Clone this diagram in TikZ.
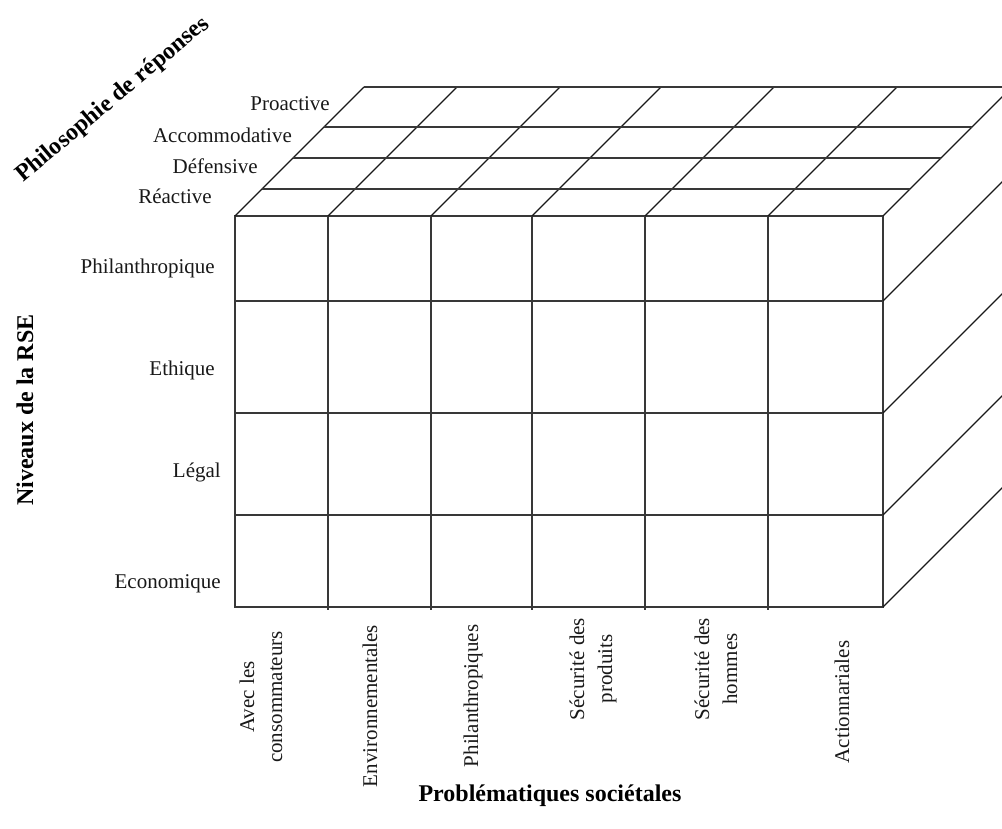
\documentclass[tikz,border=0pt]{standalone}
\usepackage{fontspec}
\setmainfont{Liberation Serif}
\begin{document}
\begin{tikzpicture}[x=1pt,y=-1pt,
  edge/.style={line width=1.4pt, draw=black!78},
  diag/.style={line width=1.2pt, draw=black!90},
  lbl/.style={font=\fontsize{21}{28}\selectfont, inner sep=0pt, text=black!90},
  ttl/.style={font=\bfseries\fontsize{24}{28}\selectfont, inner sep=0pt}]
\useasboundingbox (0,0) rectangle (1002,829);
\clip (0,0) rectangle (1002,829);
% front face
\draw[edge] (235,216) rectangle (883,607);
\foreach \x in {328,431,532,645,768} \draw[edge] (\x,216) -- (\x,610);
\foreach \y in {301,413,515} \draw[edge] (235,\y) -- (883,\y);
% top face
\foreach \x in {235,328,431,532,645,768,883} \draw[diag] (\x,216) -- ++(129,-129);
\foreach \y in {189,158,127} \draw[edge] ({451-\y},\y) -- ({1099-\y},\y);
\draw[edge] (364,87) -- (1012,87);
% right face
\foreach \y in {301,413,515,607} \draw[diag] (883,\y) -- ++(129,-129);
% top labels
\node[lbl, anchor=east] (pro) at (330,104) {Proactive};
\node[lbl, anchor=east] (acc) at (292,135) {Accommodative};
\node[lbl, anchor=east] (def) at (258,166) {Défensive};
\node[lbl, anchor=east] (rea) at (212,196) {Réactive};
% left labels
\node[lbl, anchor=east] (phi) at (215,268) {Philanthropique};
\node[lbl, anchor=east] (eth) at (215,370) {Ethique};
\node[lbl, anchor=east] (leg) at (221,472) {Légal};
\node[lbl, anchor=east] (eco) at (221,584) {Economique};
% bottom labels
\node[lbl, rotate=90, align=center] (c1) at (261,697) {Avec les\\consommateurs};
\node[lbl, rotate=90] (c2) at (370,706) {Environnementales};
\node[lbl, rotate=90] (c3) at (473,696) {Philanthropiques};
\node[lbl, rotate=90, align=center] (c4) at (593,669) {Sécurité des\\produits};
\node[lbl, rotate=90, align=center] (c5) at (716,669) {Sécurité des\\hommes};
\node[lbl, rotate=90] (c6) at (842,702) {Actionnariales};
% titles
\node[ttl, rotate=40] (t1) at (113,100) {Philosophie de réponses};
\node[ttl, rotate=90] (t2) at (25,410) {Niveaux de la RSE};
\node[ttl] (t3) at (550,796) {Problématiques sociétales};
\end{tikzpicture}
\end{document}
